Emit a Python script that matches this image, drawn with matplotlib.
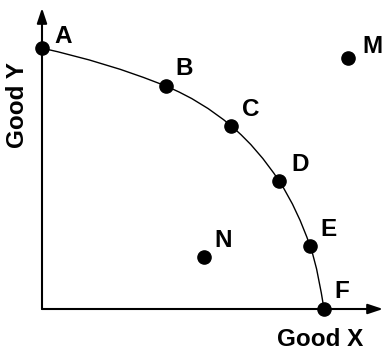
import matplotlib
matplotlib.use("Agg")
import matplotlib.pyplot as plt
from matplotlib.path import Path
from matplotlib.patches import PathPatch
import numpy as np

# Data (arbitrary units)
frontier_labels = ["A", "B", "C", "D", "E", "F"]
frontier_x = [0.0, 4.4, 6.7, 8.4, 9.5, 10.0]
frontier_y = [9.25, 7.9, 6.5, 4.55, 2.25, 0.0]
other_labels = ["M", "N"]
other_x = [10.85, 5.75]
other_y = [8.9, 1.85]
x_label = "Good X"
y_label = "Good Y"

FONT = "Liberation Sans"
FS = 17.5
fig = plt.figure(figsize=(3.84, 3.52), dpi=100)
ax = fig.add_axes([42 / 384, 43 / 352, 342 / 384, 309 / 352])
ax.set_xlim(0, 342 / 28.2)
ax.set_ylim(0, 309 / 28.2)
ax.set_axis_off()

# Axes arrows
xmax_arrow = 341 / 28.2
ymax_arrow = 301 / 28.2
for tip in [(xmax_arrow, 0), (0, ymax_arrow)]:
    ax.annotate("", xy=tip, xytext=(0, 0),
                arrowprops=dict(arrowstyle="-|>,head_length=0.9,head_width=0.3", lw=1.5,
                                color="black", shrinkA=0, shrinkB=0),
                annotation_clip=False)

# Smooth frontier through the points (chord-length Hermite -> cubic Bezier)
P = np.column_stack([frontier_x, frontier_y])
d = np.linalg.norm(np.diff(P, axis=0), axis=1)
n = len(P)
m = np.zeros_like(P)
for i in range(n):
    if i == 0:
        m[i] = (P[1] - P[0]) / d[0]
        m[i] = m[i] + np.array([0.0, 0.08])
    elif i == n - 1:
        m[i] = (P[-1] - P[-2]) / d[-1]
        m[i] = m[i] + np.array([-0.05, 0.0])
    else:
        m[i] = (P[i + 1] - P[i - 1]) / (d[i - 1] + d[i])
    m[i] = m[i] / np.linalg.norm(m[i])
verts = [tuple(P[0])]
codes = [Path.MOVETO]
for i in range(n - 1):
    c1 = P[i] + m[i] * d[i] / 3
    c2 = P[i + 1] - m[i + 1] * d[i] / 3
    verts += [tuple(c1), tuple(c2), tuple(P[i + 1])]
    codes += [Path.CURVE4] * 3
ax.add_patch(PathPatch(Path(verts, codes), fill=False, lw=1.0, color="black", clip_on=False))

# Points
ax.plot(frontier_x, frontier_y, "o", color="black", ms=9.5, clip_on=False, zorder=3)
ax.plot(other_x, other_y, "o", color="black", ms=9.5, clip_on=False, zorder=3)

offsets = {"A": (21, 12), "B": (18, 18), "C": (20, 16), "D": (21, 16),
           "E": (19, 16), "F": (18, 18), "M": (24, 12), "N": (19, 16)}
for lab, x, y in zip(frontier_labels + other_labels, frontier_x + other_x, frontier_y + other_y):
    ax.annotate(lab, xy=(x, y), xytext=offsets[lab], textcoords="offset pixels",
                ha="center", va="center", fontsize=FS, fontweight="bold",
                family=FONT, annotation_clip=False)

fig.text(18 / 384, 1 - 105 / 352, y_label, rotation=90, ha="center", va="center",
         fontsize=FS, fontweight="bold", family=FONT)
fig.text(320 / 384, 1 - 340 / 352, x_label, ha="center", va="center",
         fontsize=FS, fontweight="bold", family=FONT)

fig.savefig("out.png", dpi=100)
